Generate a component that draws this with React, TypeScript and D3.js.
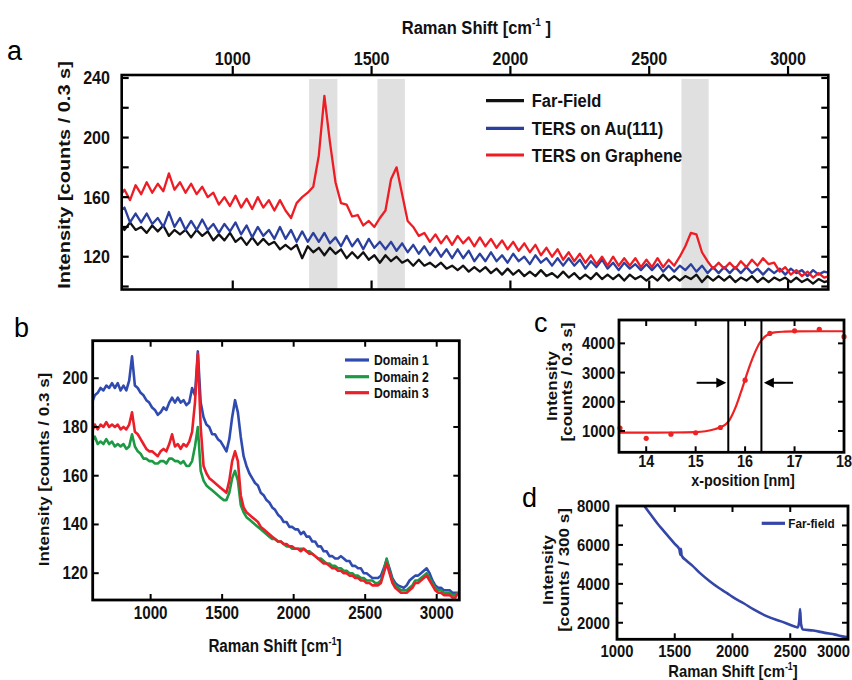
import React from "react";
import * as d3 from "d3";

const FONT = '"Liberation Sans", Arial, Helvetica, sans-serif';
const SQ = 0.87;

// ---------------- Panel a data ----------------
const aShiftStart = 590;
const aShiftStep = 20;
const aFarField = [
  142,138,143,138,140,136,141,137,141,134,
  138,135,138,133,138,134,137,131,135,131,
  136,130,133,128,133,128,132,128,130,125,
  128,125,128,119,127,123,126,121,126,122,
  125,119,123,119,123,118,121,116,121,117,
  120,116,118,114,118,114,116,113,116,112,
  114,111,114,110,113,110,113,109,112,108,
  112,108,111,107,110,107,111,107,109,106,
  110,106,109,105,108,105,109,105,108,105,
  108,104,108,105,107,104,107,104,108,104,
  107,104,107,105,108,103,107,104,107,104,
  107,103,106,104,107,103,106,103,106,104,
  106,103,106,103,105,102,105,103,104,
];
const aTersAu = [
  150,153,143,149,143,149,142,146,140,150,
  140,146,138,144,138,145,138,142,136,142,
  137,143,135,141,133,140,134,138,132,140,
  132,138,130,137,130,136,130,136,129,133,
  127,134,127,132,125,132,126,130,125,130,
  124,129,123,128,122,127,121,126,120,125,
  119,125,119,124,117,122,117,123,117,121,
  116,122,117,120,115,121,116,119,114,119,
  114,119,114,118,112,117,113,118,112,116,
  111,116,112,115,111,115,111,115,110,114,
  110,114,111,115,110,114,109,113,109,113,
  109,113,109,113,109,112,108,112,109,112,
  108,112,109,111,107,111,108,110,109,
];
const aTersGraphene = [
  160,165,158,168,162,170,163,169,164,176,
  165,170,163,169,162,167,160,163,155,160,
  154,161,153,159,152,160,153,158,151,158,
  151,146,156,160,163,167,188,228,197,170,
  156,155,147,148,141,144,140,146,151,172,
  180,162,144,140,134,136,130,135,129,134,
  128,134,129,133,127,133,127,132,126,131,
  125,130,124,129,123,128,121,126,120,125,
  118,123,117,122,116,121,115,120,114,120,
  114,119,114,119,113,118,113,119,113,118,
  114,120,127,136,135,123,117,112,116,112,
  116,112,117,113,118,114,119,115,116,110,
  113,108,111,107,110,106,109,106,107,
];
const aBands = [[1275, 1377], [1521, 1620], [2616, 2714]];
const aXTicks = [1000, 1500, 2000, 2500, 3000];
const aYTicks = [100, 120, 140, 160, 180, 200, 220, 240];
const aYTickLabels = [120, 160, 200, 240];
const aLegend = ["Far-Field", "TERS on Au(111)", "TERS on Graphene"];

// ---------------- Panel b data ----------------
const bShiftStart = 590;
const bShiftStep = 20;
const bDomain1 = [
  190,193,194,196,195,197,196,198,196,198,
  195,197,195,199,209,197,196,194,193,191,
  190,188,187,185,186,188,187,190,192,190,
  192,190,191,189,190,196,193,211,190,184,
  181,180,177,177,175,174,172,170,175,184,
  191,186,176,168,164,161,159,157,156,153,
  152,150,149,147,146,144,143,141,141,139,
  139,138,138,136,137,135,135,133,133,131,
  131,129,129,127,127,126,126,127,126,125,
  125,123,123,122,122,120,120,119,118,118,
  118,119,122,125.5,122,118,116,115,114.5,114,
  115,117,118,119,119,120,121,122,120,117,
  115,114,114,113,113,113,112,112,112,
];
const bDomain2 = [
  174,176,173,174,173,175,173,174,172,173,
  172,173,171,172,177,172,170,169,167,167,
  166,166,165,165,166,166,165,167,167,166,
  166,165,166,164,164,166,172,180,162,158,
  156,155,154,153,152,151,150,150,153,159,
  162,158,148,145,143,142,141,140,139,138,
  137,136,135,134,134,133,133,132,131,131,
  130,130,130,130,130,129,129,128,127,126,
  126,125,124,124,123,123,122,122,121,121,
  120,120,119,119,118,118,117,117,117,116,
  116,117,121,126,121,117,115,114,113,113,
  113,114,115,117,117,118,119,120,118,116,
  114,113,113,112,112,112,111,111,112,
];
const bDomain3 = [
  178,181,179,181,180,182,180,181,180,181,
  179,180,179,181,186,178,177,175,173,171,
  170,170,169,168,170,171,170,173,177,172,
  173,171,173,172,174,178,190,210,180,164,
  161,159,158,157,156,155,154,153,158,166,
  170,166,152,147,145,144,143,142,141,139,
  138,137,136,135,134,133,133,132,132,131,
  131,130,130,129,130,129,128,128,127,126,
  125,124,124,123,122,122,121,121,120,120,
  119,119,118,118,117,117,116,116,115,115,
  115,116,120,124,120,116,114,113,112,112,
  112,113,114,116,116,117,118,119,117,115,
  113,112,112,111,111,111,110,110,112,
];
const bXTicks = [1000, 1500, 2000, 2500, 3000];
const bYTicks = [120, 140, 160, 180, 200];
const bLegend = ["Domain 1", "Domain 2", "Domain 3"];

// ---------------- Panel c data ----------------
const cPosition = [13.47, 14, 14.5, 15, 15.5, 16, 16.5, 17, 17.5, 18];
const cIntensity = [1100, 750, 890, 940, 1120, 2740, 4340, 4430, 4480, 4230];
const cFitPosition = [13.45, 14, 14.5, 15, 15.2, 15.4, 15.5, 15.6, 15.66, 15.7, 15.8, 15.9, 16, 16.1, 16.2, 16.3, 16.4, 16.5, 16.6, 16.8, 17, 17.5, 18];
const cFitIntensity = [945, 945, 948, 960, 990, 1070, 1130, 1220, 1320, 1420, 1780, 2250, 2760, 3260, 3690, 4030, 4230, 4330, 4375, 4400, 4410, 4415, 4415];
const cFwhmLines = [15.66, 16.33];
const cArrowLeft = [15.02, 15.62];
const cArrowRight = [16.97, 16.38];
const cArrowLevel = 2650;
const cXTicks = [14, 15, 16, 17, 18];
const cYTicks = [1000, 2000, 3000, 4000];

// ---------------- Panel d data ----------------
const dShift = [1200,1237,1300,1350,1400,1450,1500,1540,1548,1553,1560,1600,1650,1719,1800,1880,1953,2000,2100,2187,2300,2421,2538,2565,2577,2585,2593,2610,2700,2800,2889,2950,3000,3053];
const dFarField = [8300,8000,7500,7100,6750,6400,6050,5780,5500,5800,5450,5200,4950,4550,4150,3800,3520,3330,2990,2670,2330,2070,1810,1760,2050,2700,1950,1650,1600,1480,1390,1300,1250,1220];
const dXTicks = [1000, 1500, 2000, 2500, 3000];
const dYTicks = [2000, 3000, 4000, 5000, 6000, 7000, 8000];
const dYTickLabels = [2000, 4000, 6000, 8000];

// ---------------- helpers ----------------
function Txt(props: any) {
  const { x, y, size, anchor = "middle", weight = "bold", sx = SQ, rot = false, children, fill = "#111" } = props;
  const transform = rot
    ? `translate(${x},${y}) rotate(-90) scale(1,${sx})`
    : `translate(${x},${y}) scale(${sx},1)`;
  return (
    <text transform={transform} fontSize={size} fontWeight={weight} textAnchor={anchor} fontFamily={FONT} fill={fill}>
      {children}
    </text>
  );
}

function Letter({ x, y, ch }: any) {
  return (
    <text x={x} y={y} fontSize={27} fontFamily={FONT} fill="#000">
      {ch}
    </text>
  );
}

function arrowHead(x1: number, y1: number, x2: number, y2: number, len = 9, half = 4.5) {
  const dx = x2 - x1, dy = y2 - y1;
  const L = Math.hypot(dx, dy);
  const ux = dx / L, uy = dy / L;
  const bx = x2 - ux * len, by = y2 - uy * len;
  return `M${x2},${y2}L${bx - uy * half},${by + ux * half}L${bx + uy * half},${by - ux * half}Z`;
}

export default function App() {
  // Panel a
  const A = { l: 121.7, r: 828.3, t: 75, b: 289.5 };
  const ax = d3.scaleLinear().domain([600, 3145]).range([A.l, A.r]);
  const ay = d3.scaleLinear().domain([98, 242]).range([A.b, A.t]);
  const aLine = (arr: number[]) =>
    d3.line<number>().x((_, i) => ax(aShiftStart + i * aShiftStep)).y((d) => ay(d))(arr) || "";
  const aSeries = [
    { v: aFarField, c: "#111111" },
    { v: aTersAu, c: "#2b3f9e" },
    { v: aTersGraphene, c: "#ee1d25" },
  ];

  // Panel b
  const B = { l: 92.7, r: 459.3, t: 340.7, b: 600 };
  const bx = d3.scaleLinear().domain([595, 3158]).range([B.l, B.r]);
  const by = d3.scaleLinear().domain([109, 215.4]).range([B.b, B.t]);
  const bLine = (arr: number[]) =>
    d3.line<number>().x((_, i) => bx(bShiftStart + i * bShiftStep)).y((d) => by(d))(arr) || "";
  const bColors = ["#2f4bb0", "#1b9a43", "#ea1f2a"];
  const bSeries = [
    { v: bDomain1, c: bColors[0] },
    { v: bDomain2, c: bColors[1] },
    { v: bDomain3, c: bColors[2] },
  ];

  // Panel c
  const C = { l: 619, r: 844, t: 320, b: 452.3 };
  const cx = d3.scaleLinear().domain([13.45, 18]).range([C.l, C.r]);
  const cy = d3.scaleLinear().domain([270, 4800]).range([C.b, C.t]);
  const cFit =
    d3
      .line<number>()
      .x((_, i) => cx(cFitPosition[i]))
      .y((d) => cy(d))
      .curve(d3.curveMonotoneX)(cFitIntensity) || "";

  // Panel d
  const D = { l: 617, r: 848, t: 506, b: 639.3 };
  const dx = d3.scaleLinear().domain([1000, 3000]).range([D.l, D.r]);
  const dy = d3.scaleLinear().domain([1150, 8000]).range([D.b, D.t]);
  const dPath =
    d3
      .line<number>()
      .x((_, i) => dx(dShift[i]))
      .y((d) => dy(d))
      .curve(d3.curveMonotoneX)(dFarField) || "";

  const sup = (base: string, tail: string, size: number) => (
    <>
      {base}
      <tspan dy={-size * 0.42} fontSize={size * 0.6}>-1</tspan>
      <tspan dy={size * 0.42}>{tail}</tspan>
    </>
  );

  return (
    <svg
      width={852}
      height={680}
      viewBox="0 0 852 680"
      style={{ position: "absolute", left: 0, top: 0, background: "#fff" }}
    >
      <defs>
        <clipPath id="clipA"><rect x={A.l} y={A.t} width={A.r - A.l} height={A.b - A.t} /></clipPath>
        <clipPath id="clipB"><rect x={B.l} y={B.t} width={B.r - B.l} height={B.b - B.t} /></clipPath>
        <clipPath id="clipC"><rect x={C.l} y={C.t} width={C.r - C.l} height={C.b - C.t} /></clipPath>
        <clipPath id="clipD"><rect x={D.l} y={D.t} width={D.r - D.l} height={D.b - D.t} /></clipPath>
      </defs>
      <rect x={0} y={0} width={852} height={680} fill="#fff" />

      {/* ================= Panel a ================= */}
      <Letter x={7} y={60} ch="a" />
      <Txt x={401.7} y={33.5} size={19} anchor="start">{sup("Raman Shift [cm", " ]", 19)}</Txt>
      {aBands.map(([s, e], i) => (
        <rect key={i} x={ax(s)} y={79} width={ax(e) - ax(s)} height={A.b - 79} fill="#e0e0e0" />
      ))}
      <g clipPath="url(#clipA)">
        {aSeries.map((s, i) => (
          <path key={i} d={aLine(s.v)} fill="none" stroke={s.c} strokeWidth={2.3} strokeLinejoin="round" />
        ))}
      </g>
      {/* legend a */}
      {aLegend.map((t, i) => {
        const yy = [100.7, 128.3, 155][i];
        return (
          <g key={t}>
            <line x1={486} x2={524} y1={yy} y2={yy} stroke={aSeries[i].c} strokeWidth={3.2} />
            <Txt x={531.7} y={yy + 6.5} size={19} anchor="start">{t}</Txt>
          </g>
        );
      })}
      <rect x={A.l} y={A.t} width={A.r - A.l} height={A.b - A.t} fill="none" stroke="#000" strokeWidth={2.6} />
      {aXTicks.map((t) => (
        <g key={t}>
          <line x1={ax(t)} x2={ax(t)} y1={A.t} y2={A.t - 9} stroke="#000" strokeWidth={2.2} />
          <line x1={ax(t)} x2={ax(t)} y1={A.b} y2={A.b - 9} stroke="#000" strokeWidth={2.2} />
          <Txt x={ax(t)} y={65} size={18.5}>{t}</Txt>
        </g>
      ))}
      {aYTicks.map((t) => (
        <g key={t}>
          <line x1={A.l} x2={A.l + 7} y1={ay(t)} y2={ay(t)} stroke="#000" strokeWidth={2.2} />
          <line x1={A.r} x2={A.r - 7} y1={ay(t)} y2={ay(t)} stroke="#000" strokeWidth={2.2} />
        </g>
      ))}
      {aYTickLabels.map((t) => (
        <Txt key={t} x={110} y={ay(t) + 6.5} size={18.5} anchor="end">{t}</Txt>
      ))}
      <Txt x={70} y={175} size={20} rot>Intensity [counts / 0.3 s]</Txt>

      {/* ================= Panel b ================= */}
      <Letter x={14} y={337} ch="b" />
      <g clipPath="url(#clipB)">
        {bSeries.map((s, i) => (
          <path key={i} d={bLine(s.v)} fill="none" stroke={s.c} strokeWidth={2.6} strokeLinejoin="round" />
        ))}
      </g>
      {bLegend.map((t, i) => {
        const yy = [360, 376.7, 392.7][i];
        return (
          <g key={t}>
            <line x1={345} x2={369} y1={yy} y2={yy} stroke={bColors[i]} strokeWidth={3.2} />
            <Txt x={374} y={yy + 5} size={14} anchor="start">{t}</Txt>
          </g>
        );
      })}
      <rect x={B.l} y={B.t} width={B.r - B.l} height={B.b - B.t} fill="none" stroke="#000" strokeWidth={2.8} />
      {bXTicks.map((t) => (
        <g key={t}>
          <line x1={bx(t)} x2={bx(t)} y1={B.t} y2={B.t + 6} stroke="#000" strokeWidth={2} />
          <line x1={bx(t)} x2={bx(t)} y1={B.b} y2={B.b - 6} stroke="#000" strokeWidth={2} />
          <Txt x={bx(t)} y={619} size={17.5}>{t}</Txt>
        </g>
      ))}
      {bYTicks.map((t) => (
        <g key={t}>
          <line x1={B.l} x2={B.l + 6} y1={by(t)} y2={by(t)} stroke="#000" strokeWidth={2} />
          <line x1={B.r} x2={B.r - 6} y1={by(t)} y2={by(t)} stroke="#000" strokeWidth={2} />
          <Txt x={88} y={by(t) + 6} size={17.5} anchor="end">{t}</Txt>
        </g>
      ))}
      <Txt x={275} y={652} size={17.5}>{sup("Raman Shift [cm", "]", 17.5)}</Txt>
      <Txt x={49} y={469.5} size={17} rot>Intensity [counts / 0.3 s]</Txt>

      {/* ================= Panel c ================= */}
      <Letter x={534} y={332} ch="c" />
      <g clipPath="url(#clipC)">
        <path d={cFit} fill="none" stroke="#ee2222" strokeWidth={2.2} />
      </g>
      {cPosition.map((p, i) => (
        <circle key={i} cx={cx(p)} cy={cy(cIntensity[i])} r={2.6} fill="#ee2222" />
      ))}
      {cFwhmLines.map((p) => (
        <line key={p} x1={cx(p)} x2={cx(p)} y1={C.t} y2={C.b} stroke="#000" strokeWidth={2} />
      ))}
      {[cArrowLeft, cArrowRight].map((a, i) => {
        const x1 = cx(a[0]), x2 = cx(a[1]), yy = cy(cArrowLevel);
        return (
          <g key={i}>
            <line x1={x1} x2={x2 - Math.sign(x2 - x1) * 6} y1={yy} y2={yy} stroke="#000" strokeWidth={2} />
            <path d={arrowHead(x1, yy, x2, yy, 10, 5)} fill="#000" />
          </g>
        );
      })}
      <rect x={C.l} y={C.t} width={C.r - C.l} height={C.b - C.t} fill="none" stroke="#000" strokeWidth={2.8} />
      {cXTicks.map((t) => (
        <g key={t}>
          <line x1={cx(t)} x2={cx(t)} y1={C.t} y2={C.t + 6} stroke="#000" strokeWidth={2} />
          <line x1={cx(t)} x2={cx(t)} y1={C.b} y2={C.b - 6} stroke="#000" strokeWidth={2} />
          <Txt x={cx(t)} y={467} size={16.5}>{t}</Txt>
        </g>
      ))}
      {cYTicks.map((t) => (
        <g key={t}>
          <line x1={C.l} x2={C.l + 6} y1={cy(t)} y2={cy(t)} stroke="#000" strokeWidth={2} />
          <line x1={C.r} x2={C.r - 6} y1={cy(t)} y2={cy(t)} stroke="#000" strokeWidth={2} />
          <Txt x={615} y={cy(t) + 6} size={17} anchor="end">{t}</Txt>
        </g>
      ))}
      <Txt x={743} y={485.5} size={16.5}>x-position [nm]</Txt>
      <Txt x={557} y={386} size={17} rot>Intensity</Txt>
      <Txt x={572} y={382} size={17} rot>[counts / 0.3 s]</Txt>

      {/* ================= Panel d ================= */}
      <Letter x={522} y={507} ch="d" />
      <g clipPath="url(#clipD)">
        <path d={dPath} fill="none" stroke="#3446a8" strokeWidth={2.6} strokeLinejoin="round" />
      </g>
      <line x1={761.7} x2={785} y1={523.3} y2={523.3} stroke="#3446a8" strokeWidth={3.2} />
      <Txt x={788.3} y={528} size={13.5} anchor="start">Far-field</Txt>
      <rect x={D.l} y={D.t} width={D.r - D.l} height={D.b - D.t} fill="none" stroke="#000" strokeWidth={2.8} />
      {dXTicks.map((t) => (
        <g key={t}>
          <line x1={dx(t)} x2={dx(t)} y1={D.t} y2={D.t + 6} stroke="#000" strokeWidth={2} />
          <line x1={dx(t)} x2={dx(t)} y1={D.b} y2={D.b - 6} stroke="#000" strokeWidth={2} />
          <Txt x={t === 3000 ? 850 : dx(t)} y={657} size={17} anchor={t === 3000 ? "end" : "middle"}>{t}</Txt>
        </g>
      ))}
      {dYTicks.map((t) => (
        <g key={t}>
          <line x1={D.l} x2={D.l + 6} y1={dy(t)} y2={dy(t)} stroke="#000" strokeWidth={2} />
          <line x1={D.r} x2={D.r - 6} y1={dy(t)} y2={dy(t)} stroke="#000" strokeWidth={2} />
        </g>
      ))}
      {dYTickLabels.map((t) => (
        <Txt key={t} x={610} y={dy(t) + 6} size={17} anchor="end">{t}</Txt>
      ))}
      <Txt x={733} y={677} size={17}>{sup("Raman Shift [cm", "]", 17)}</Txt>
      <Txt x={553} y={570} size={17} rot>Intensity</Txt>
      <Txt x={569} y={570} size={17} rot>[counts / 300 s]</Txt>
    </svg>
  );
}
